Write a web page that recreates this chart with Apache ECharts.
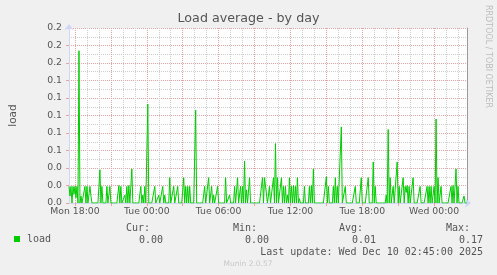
<!DOCTYPE html>
<html><head><meta charset="utf-8">
<script src="https://cdn.jsdelivr.net/npm/echarts@6/dist/echarts.min.js"></script>
<style>html,body{margin:0;padding:0;background:#f0f0f0;}#c{width:497px;height:275px;}</style>
</head><body><div id="c"></div>
<script>
// 5-minute samples, Mon 17:30 -> Wed 02:45
const load = [
 .019,.008,.019,0,.019,.01,.019,.006,.019,0,.174,0,.008,0,0,0,.019,0,.019,0,
 0,.019,.008,0,0,0,0,0,0,0,0,.038,0,.019,0,0,0,0,.019,0,
 0,.019,0,0,0,0,0,0,0,0,.02,0,.019,0,0,0,.009,0,.019,0,
 .02,0,0,.039,0,0,0,0,0,0,0,0,.019,0,.009,0,.019,0,0,.113,
 0,0,0,0,0,0,.019,0,0,0,.009,0,0,0,.019,0,.009,0,0,0,
 0,.029,0,0,0,.019,0,0,0,.019,0,0,0,0,0,.029,0,.019,0,.019,
 0,.019,0,0,0,0,0,.106,0,0,0,0,0,0,0,0,.019,0,0,0,
 .029,0,0,.019,0,.009,0,0,0,.019,0,0,0,0,0,0,0,.029,0,0,
 0,.009,0,0,0,0,.019,0,0,.029,0,0,.019,0,.019,0,.048,0,.015,0,
 0,.029,0,0,0,0,0,0,0,0,0,0,0,0,.029,0,.029,.027,.029,0,
 0,.019,0,0,0,.029,0,.068,0,.029,0,0,0,.029,0,.019,0,.019,0,.009,
 0,.029,0,.019,0,.02,0,.019,0,.029,0,.005,0,0,0,0,.019,0,0,0,
 0,.019,0,.02,0,.039,0,0,0,0,0,0,0,0,0,0,0,0,.03,0,
 .019,0,0,0,0,.019,0,.029,0,.019,0,0,0,.087,0,0,0,.019,0,0,
 0,0,0,0,0,0,0,.019,0,0,0,0,0,.029,0,0,0,0,0,0,
 .029,0,0,0,0,.047,0,.019,0,0,0,0,0,0,0,0,0,0,.009,0,
 .084,0,.029,0,0,.019,0,0,0,.047,0,.019,0,0,0,.029,0,.019,.012,.02,
 0,.019,0,0,0,.029,0,0,0,0,0,0,.019,0,0,0,0,0,0,.019,
 0,.019,0,.019,0,0,.019,0,.096,0,.029,0,0,.019,0,0,0,0,0,0,
 0,0,0,.019,0,.02,0,0,.039,0,.019,0,0,0,0,0,.008,0,0,0
];
const tickIndex = [6, 78, 150, 222, 294, 366];
const tickLabels = ['Mon 18:00', 'Tue 00:00', 'Tue 06:00', 'Tue 12:00', 'Tue 18:00', 'Wed 00:00'];
const statHeads = ['Cur:', 'Min:', 'Avg:', 'Max:'];
const statValues = ['0.00', '0.00', '0.01', '0.17'];
const seriesName = 'load';
const lastUpdate = 'Last update: Wed Dec 10 02:45:00 2025';

const categories = load.map((v, i) => String(i));
const isMajor = i => i >= 6 && (i - 6) % 36 === 0;
const isMinor = i => i >= 6 && (i - 6) % 12 === 0 && !isMajor(i);
const labelMap = {};
tickIndex.forEach((t, k) => { labelMap[t] = tickLabels[k]; });

const RED = '#e9a3a3', GRAY = '#cdcdcd', AXIS = '#cfd6f8', FONT = '#555';
const chart = echarts.init(document.getElementById('c'), null, {renderer: 'canvas'});
const statX = [150, 257, 363, 470];
const valX = [163, 269, 376, 483];
const graphics = [];
statHeads.forEach((h, k) => graphics.push({type: 'text', x: statX[k], y: 228, style: {text: h, fill: FONT, font: '10px "DejaVu Sans Mono"', textAlign: 'right', textVerticalAlign: 'middle'}}));
statValues.forEach((h, k) => graphics.push({type: 'text', x: valX[k], y: 240, style: {text: h, fill: FONT, font: '10px "DejaVu Sans Mono"', textAlign: 'right', textVerticalAlign: 'middle'}}));
graphics.push({type: 'text', x: 483, y: 252, style: {text: lastUpdate, fill: FONT, font: '10px "DejaVu Sans Mono"', textAlign: 'right', textVerticalAlign: 'middle'}});
graphics.push({type: 'text', x: 248, y: 264, style: {text: 'Munin 2.0.57', fill: '#c8c8c8', font: '7.5px "DejaVu Sans"', textAlign: 'center', textVerticalAlign: 'middle'}});
graphics.push({type: 'text', x: 488, y: 5, rotation: -Math.PI / 2, style: {text: 'RRDTOOL / TOBI OETIKER', fill: '#bdbdbd', font: '8px "DejaVu Sans"', textAlign: 'left', textVerticalAlign: 'middle'}});

chart.setOption({
  animation: false,
  backgroundColor: '#f0f0f0',
  title: {text: 'Load average - by day', left: 'center', top: 12, padding: 0,
    textStyle: {fontFamily: 'DejaVu Sans', fontSize: 12.7, fontWeight: 'normal', color: FONT}},
  legend: {data: [seriesName], left: 14, top: 234, padding: 0, itemWidth: 6, itemHeight: 6, icon: 'rect',
    textStyle: {fontFamily: 'DejaVu Sans Mono', fontSize: 10, color: FONT, padding: [0, 0, 0, 2]}},
  grid: {left: 67, right: 30, top: 28, bottom: 72, show: true, backgroundColor: '#ffffff', borderWidth: 0, containLabel: false},
  xAxis: [{
    type: 'category', data: categories, boundaryGap: false,
    axisLine: {show: true, lineStyle: {color: AXIS, width: 1}, symbol: ['none', 'arrow'], symbolSize: [7, 6], symbolOffset: [0, 4]},
    axisTick: {show: true, length: 3, interval: i => isMajor(i), lineStyle: {color: RED}},
    axisLabel: {interval: i => labelMap[i] !== undefined, formatter: (v, i) => labelMap[i] || '', margin: 4,
      fontFamily: 'DejaVu Sans', fontSize: 9.3, color: FONT},
    splitLine: {show: true, interval: i => isMajor(i), lineStyle: {color: RED, type: [1, 1], width: 1}}
  }, {
    type: 'category', data: categories, boundaryGap: false, position: 'bottom',
    axisLine: {show: false}, axisTick: {show: false}, axisLabel: {show: false},
    splitLine: {show: true, interval: i => isMinor(i), lineStyle: {color: GRAY, type: [1, 1], width: 1}}
  }],
  yAxis: [{
    type: 'value', min: 0, max: 0.2, interval: 0.02,
    name: 'load', nameLocation: 'middle', nameGap: 50, nameRotate: 90,
    nameTextStyle: {fontFamily: 'DejaVu Sans', fontSize: 10.5, color: FONT},
    axisLine: {show: true, lineStyle: {color: AXIS, width: 1}, symbol: ['none', 'arrow'], symbolSize: [7, 6], symbolOffset: [0, 4]},
    axisTick: {show: true, length: 3, lineStyle: {color: RED}},
    axisLabel: {formatter: v => v.toFixed(1), margin: 7, fontFamily: 'DejaVu Sans', fontSize: 9.3, color: FONT},
    splitLine: {show: true, lineStyle: {color: RED, type: [1, 1], width: 1}},
    minorTick: {show: false, splitNumber: 2},
    minorSplitLine: {show: true, lineStyle: {color: GRAY, type: [1, 1], width: 1}}
  }, {
    type: 'value', min: 0, max: 0.2, position: 'right',
    axisLine: {show: true, lineStyle: {color: '#9a9a9a', width: 1}},
    axisTick: {show: false}, axisLabel: {show: false}, splitLine: {show: false}
  }],
  series: [{
    name: seriesName, type: 'line', data: load, xAxisIndex: 0, yAxisIndex: 0,
    showSymbol: false, symbol: 'none', smooth: false,
    lineStyle: {color: '#00cc00', width: 1}, itemStyle: {color: '#00cc00'}
  }],
  graphic: graphics
});
</script>
</body></html>
